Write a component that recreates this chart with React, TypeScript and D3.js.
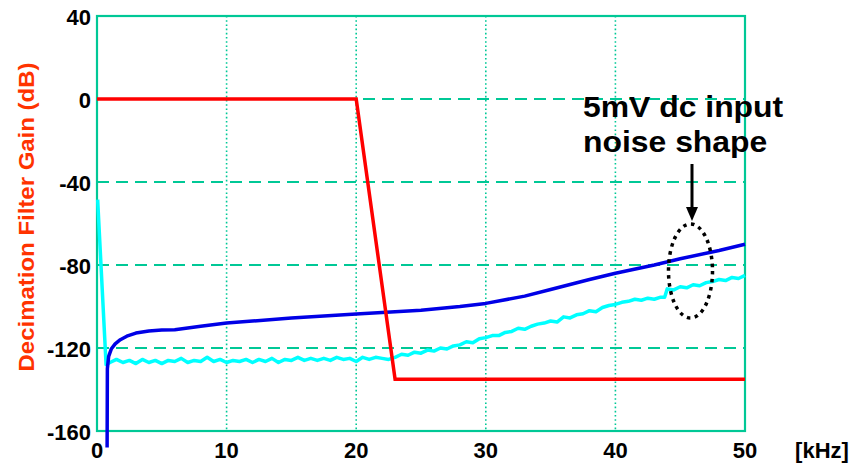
import React from "react";
import * as d3 from "d3";

// x values in kHz, y values in dB
const xTicks = [0, 10, 20, 30, 40, 50];
const yTicks = [40, 0, -40, -80, -120, -160];

const filterX = [0, 20, 23, 50];
const filterY = [0, 0, -135, -135];

const signalX = [0.78, 0.8, 0.9, 1.1, 1.4, 1.8, 2.3, 3, 4, 5, 6, 8, 10, 12, 15, 20, 25, 28, 30, 33, 35, 38, 40, 43, 45, 48, 50];
const signalY = [-168, -130, -124, -120.5, -118, -116, -114.3, -112.8, -111.8, -111.3, -111.2, -109.5, -108, -107, -105.5, -103.6, -101.8, -100, -98.5, -95, -91.8, -87, -84, -80, -77, -73, -70];

const noiseX = [0.05, 0.7, 1, 1.5, 2, 2.5, 3, 3.5, 4, 4.5, 5, 5.5, 6, 6.5, 7, 7.5, 8, 8.5, 9, 9.5, 10, 10.5, 11, 11.5, 12, 12.5, 13, 13.5, 14, 14.5, 15, 15.5, 16, 16.5, 17, 17.5, 18, 18.5, 19, 19.5, 20, 20.5, 21, 21.5, 22, 22.5, 23, 23.5, 24, 24.5, 25, 25.5, 26, 26.5, 27, 27.5, 28, 28.5, 29, 29.5, 30, 30.5, 31, 31.5, 32, 32.5, 33, 33.5, 34, 34.5, 35, 35.5, 36, 36.5, 37, 37.5, 38, 38.5, 39, 39.5, 40, 40.5, 41, 41.5, 42, 42.5, 43, 43.5, 43.8, 44, 44.5, 45, 45.5, 46, 46.5, 47, 47.5, 48, 48.5, 49, 49.5, 50];
const noiseY = [-48.5, -128, -127, -125.5, -127, -126, -127.5, -125.5, -127, -126, -127.5, -126, -126.5, -125, -127, -126, -126.5, -124.5, -126.5, -125.5, -127, -126, -126.5, -125.5, -127, -125.5, -126.5, -125, -127, -125.5, -126, -124.5, -126, -125, -126, -125, -126, -124.5, -125.5, -125, -126.5, -124.5, -125.5, -124.5, -125, -125.5, -124.5, -123, -123.5, -122, -122.5, -121, -121.5, -120, -120.5, -119, -118.5, -117, -117.5, -115.5, -115, -114, -114, -112.5, -112, -110.5, -111, -109.5, -108.5, -108, -107, -107.5, -105, -105.5, -104, -103.5, -102, -102.5, -100.5, -99.5, -99, -98, -97.5, -96.5, -97, -96, -96.5, -95.5, -95.5, -91.5, -92, -90.5, -91, -89.5, -90, -88.5, -88, -87, -87.5, -86, -86.5, -85];

const annotation = ["5mV dc input", "noise shape"];

const W = 854;
const H = 466;
const margin = { top: 16, right: 109, bottom: 35, left: 97 };
const grid = "#00c896";
const font = "Liberation Sans, Arial, sans-serif";

// bold text, optionally stretched along its baseline
const Bold = ({ x, y, sx = 1, anchor = "start", size = 22, fill = "#000", rotate = 0, children }: any) => (
  <text
    transform={`translate(${x},${y}) rotate(${rotate}) scale(${sx},1)`}
    textAnchor={anchor}
    fontFamily={font}
    fontWeight="bold"
    fontSize={size}
    fill={fill}
  >
    {children}
  </text>
);

const App = () => {
  const x = d3.scaleLinear().domain([0, 50]).range([margin.left, W - margin.right]);
  const y = d3.scaleLinear().domain([-160, 40]).range([H - margin.bottom, margin.top]);

  const line = d3
    .line<[number, number]>()
    .x((d) => x(d[0]))
    .y((d) => y(d[1]));

  const filter = filterX.map((v, i) => [v, filterY[i]] as [number, number]);
  const signal = signalX.map((v, i) => [v, signalY[i]] as [number, number]);
  const noise = noiseX.map((v, i) => [v, noiseY[i]] as [number, number]);

  const x0 = x(0), x1 = x(50), y0 = y(-160), y1 = y(40);

  return (
    <svg width={W} height={H} style={{ position: "absolute", left: 0, top: 0, background: "#fff" }}>
      {/* grid */}
      {yTicks.filter((t) => t !== 40 && t !== -160).map((t) => (
        <line key={"h" + t} x1={x0} x2={x1} y1={y(t)} y2={y(t)} stroke={grid} strokeWidth={1.8} strokeDasharray="12 7" />
      ))}
      {xTicks.filter((t) => t !== 0 && t !== 50).map((t) => (
        <line key={"v" + t} x1={x(t)} x2={x(t)} y1={y1} y2={y0} stroke={grid} strokeWidth={1.6} strokeDasharray="1.6 2.6" />
      ))}
      <rect x={x0} y={y1} width={x1 - x0} height={y0 - y1} fill="none" stroke={grid} strokeWidth={2.2} />

      {/* series */}
      <path d={line(noise) || ""} fill="none" stroke="#00ffff" strokeWidth={3.5} strokeLinejoin="round" />
      <path d={line(signal) || ""} fill="none" stroke="#0000e6" strokeWidth={3.5} strokeLinejoin="round" />
      <path d={line(filter) || ""} fill="none" stroke="#ff0000" strokeWidth={3.5} strokeLinejoin="miter" />

      {/* tick labels */}
      {yTicks.map((t) => (
        <Bold key={"yt" + t} x={x0 - 6} y={y(t) + 9} anchor="end">
          {t}
        </Bold>
      ))}
      {xTicks.map((t) => (
        <Bold key={"xt" + t} x={x(t)} y={y0 + 27} anchor="middle">
          {t}
        </Bold>
      ))}
      <Bold x={822} y={y0 + 27} anchor="middle">
        [kHz]
      </Bold>
      <Bold x={34} y={217} anchor="middle" rotate={-90} sx={1.09} fill="#ff3300">
        Decimation Filter Gain (dB)
      </Bold>

      {/* annotation */}
      {annotation.map((s, i) => (
        <Bold key={s} x={583} y={116.5 + i * 35} size={29} sx={1.1}>
          {s}
        </Bold>
      ))}
      <line x1={692} x2={692} y1={164} y2={210} stroke="#000" strokeWidth={3} />
      <path d="M686,207 L698,207 L692,221 Z" fill="#000" />
      <ellipse cx={690.5} cy={271} rx={22} ry={47} fill="none" stroke="#000" strokeWidth={3.5} strokeDasharray="3.5 4.5" />
    </svg>
  );
};

export default App;
